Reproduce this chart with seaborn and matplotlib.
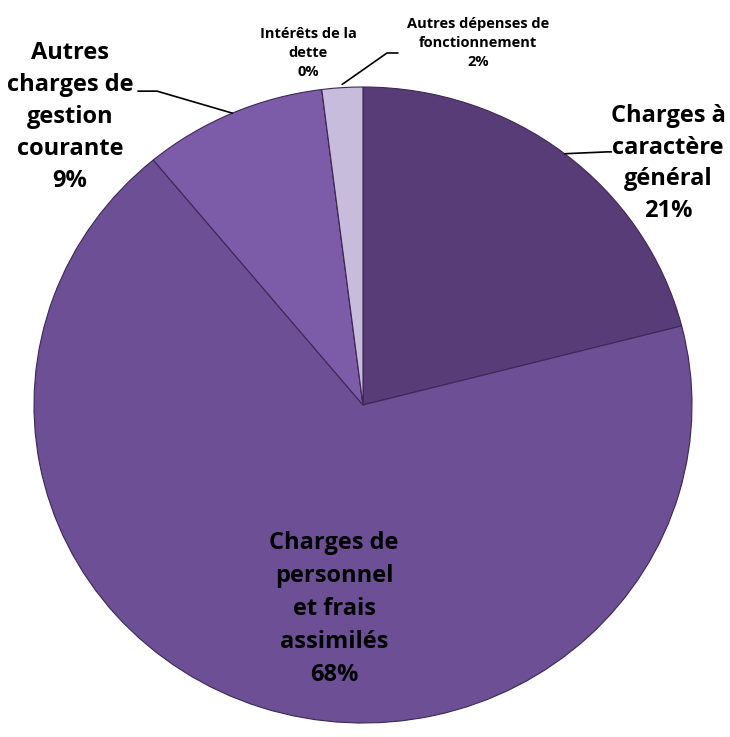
import matplotlib
matplotlib.use('Agg')
import matplotlib.pyplot as plt
import numpy as np
import seaborn as sns

# Data
categories = ['Charges à\ncaractère\ngénéral',
              'Charges de\npersonnel\net frais\nassimilés',
              'Autres\ncharges de\ngestion\ncourante',
              'Intérêts de la\ndette',
              'Autres dépenses de\nfonctionnement']
shares = [21, 68, 9, 0, 2]
colors = ['#573c78', '#6c4f94', '#7c5ca8', '#8a6ab6', '#c8bcdc']

sns.set_theme(style='white')
plt.rcParams['font.family'] = ['Open Sans', 'DejaVu Sans']

fig = plt.figure(figsize=(7.3, 7.37), dpi=100)
ax = fig.add_axes([0, 0, 1, 1])

wedges, _ = ax.pie(shares, colors=colors, startangle=90, counterclock=False,
                   wedgeprops=dict(edgecolor='#3b2854', linewidth=0.8))
ax.set_aspect('auto')
ax.set_xlim(-1.1033, 1.1155)
ax.set_ylim(-1.044, 1.2736)
ax.axis('off')

# label positions / sizes (layout)
label_pos = [(0.927, 0.76), (-0.088, -0.642), (-0.891, 0.906), (-0.167, 1.107), (0.35, 1.138)]
label_size = [17, 17, 17, 10.5, 10.5]
label_ls = [1.42, 1.5, 1.45, 1.45, 1.45]

for i, (name, val) in enumerate(zip(categories, shares)):
    x, y = label_pos[i]
    ax.text(x, y, f'{name}\n{val}%', ha='center', va='center', multialignment='center',
            fontsize=label_size[i], fontweight='bold', color='black',
            linespacing=label_ls[i])


def edge_point(w, r=1.0):
    ang = np.deg2rad((w.theta1 + w.theta2) / 2)
    return r * np.cos(ang), r * np.sin(ang)


# leader lines
x0, y0 = edge_point(wedges[0])
ax.plot([x0, 0.742, 0.755], [y0, 0.796, 0.796], color='black', lw=1.2)
x2, y2 = edge_point(wedges[2])
ax.plot([x2, -0.626, -0.684], [y2, 0.987, 0.987], color='black', lw=1.2)
x4, y4 = edge_point(wedges[4], 1.01)
ax.plot([x4, 0.073, 0.106], [y4, 1.107, 1.107], color='black', lw=1.2)

fig.savefig('out.png', dpi=100)
